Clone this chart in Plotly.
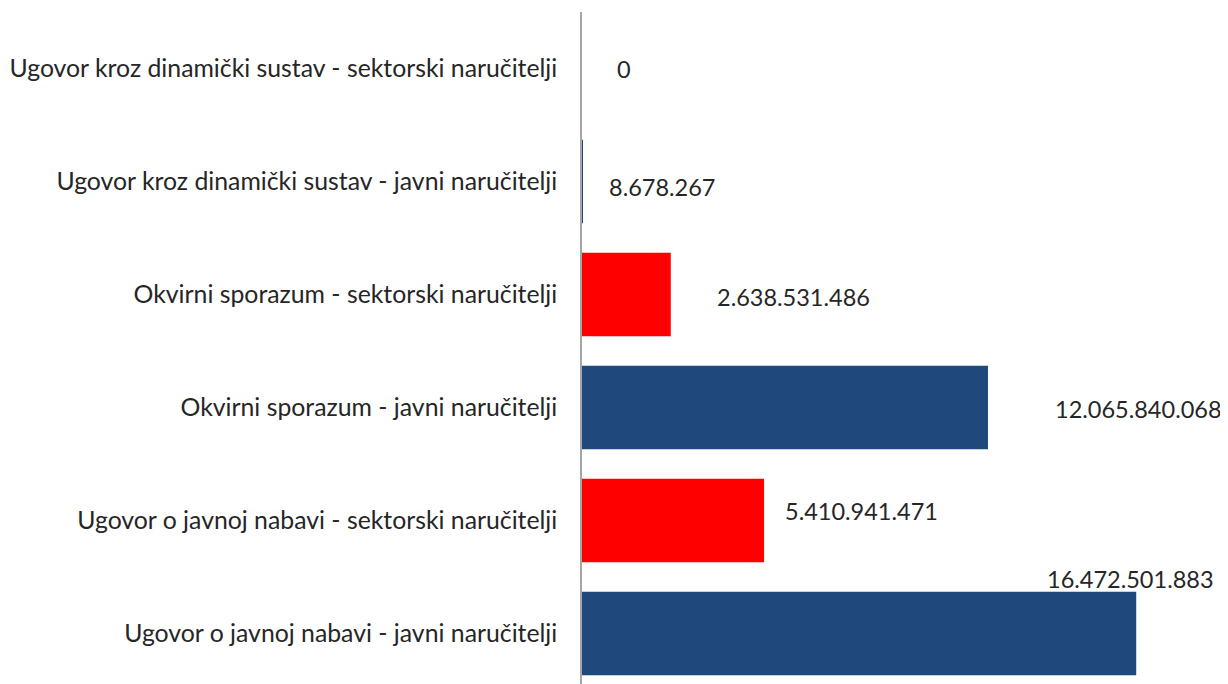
import plotly.graph_objects as go

categories = [
    "Ugovor o javnoj nabavi - javni naručitelji",
    "Ugovor o javnoj nabavi - sektorski naručitelji",
    "Okvirni sporazum - javni naručitelji",
    "Okvirni sporazum - sektorski naručitelji",
    "Ugovor kroz dinamički sustav - javni naručitelji",
    "Ugovor kroz dinamički sustav - sektorski naručitelji",
]
values = [16472501883, 5410941471, 12065840068, 2638531486, 8678267, 0]
labels = ["16.472.501.883", "5.410.941.471", "12.065.840.068", "2.638.531.486", "8.678.267", "0"]
colors = ["#1F497D", "#FF0000", "#1F497D", "#FF0000", "#1F497D", "#FF0000"]
# label offsets (px) relative to bar end / bar centre
label_xshift = [-91, 19, 65, 44, 25, 33]
label_yshift = [54, 9, -2, -2, -5, 0]

FONT = "Lato, Carlito, Calibri, sans-serif"
TXT = "#262626"

fig = go.Figure(go.Bar(
    y=list(range(len(categories))),
    x=values,
    orientation="h",
    marker=dict(color=colors, line=dict(width=0)),
    width=0.74,
    hoverinfo="skip",
))

for i, (v, lab) in enumerate(zip(values, labels)):
    fig.add_annotation(
        x=v, y=i, xref="x", yref="y", text=lab, showarrow=False,
        xanchor="left", yanchor="middle",
        xshift=label_xshift[i], yshift=label_yshift[i],
        font=dict(family=FONT, size=23.5, color=TXT),
    )

fig.update_layout(
    width=1220, height=676,
    margin=dict(l=574, r=0, t=4, b=0),
    plot_bgcolor="white", paper_bgcolor="white",
    showlegend=False,
    font=dict(family=FONT, size=24, color=TXT),
)
fig.update_xaxes(range=[0, 19.2e9], visible=False, showgrid=False, zeroline=False)
fig.update_yaxes(
    range=[-0.447, 5.5],
    tickmode="array", tickvals=list(range(len(categories))), ticktext=categories,
    showline=True, linecolor="#A6A6A6", linewidth=1.5,
    ticks="", showgrid=False, zeroline=False,
    ticklabelstandoff=18,
    tickfont=dict(family=FONT, size=24.8, color=TXT),
)

fig.write_html("out.html")
